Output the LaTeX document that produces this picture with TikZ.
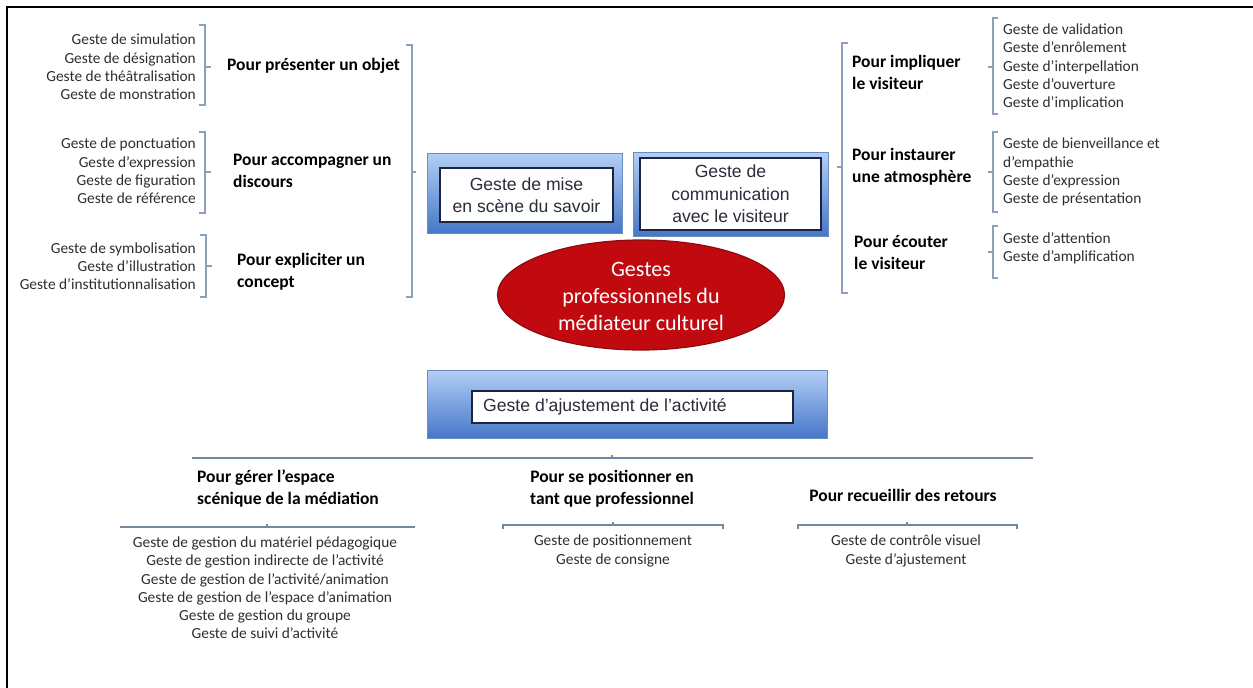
\documentclass[tikz,border=0pt]{standalone}
\usepackage{fontspec}
\setmainfont{Carlito}
\newfontfamily\arialf{Liberation Sans}
\usetikzlibrary{shapes.geometric}
\definecolor{brk}{HTML}{8DA0BA}
\definecolor{bline}{HTML}{7488A0}
\definecolor{boxtop}{HTML}{B3CFF4}
\definecolor{boxbot}{HTML}{4677C8}
\definecolor{boxedge}{HTML}{6A8CC0}
\definecolor{navy}{HTML}{1C2444}
\definecolor{smalltxt}{HTML}{2E2E2E}
\definecolor{boxtxt}{HTML}{2A2D3A}
\definecolor{ellred}{HTML}{C00A10}
\definecolor{ellrim}{HTML}{8E0A0E}
\tikzset{
  small/.style={inner sep=0pt, text=smalltxt, font=\fontsize{15.4}{18.2}\selectfont},
  head/.style={inner sep=0pt, text=black, font=\fontsize{17.5}{22}\selectfont\bfseries, align=left, anchor=west},
  bracket/.style={draw=brk, line width=1.3pt},
  hline/.style={draw=bline, line width=1.5pt},
  bluebox/.style={draw=boxedge, line width=0.8pt, top color=boxtop, bottom color=boxbot},
  innerbox/.style={draw=navy, line width=1.6pt, fill=white},
  boxtext/.style={inner sep=0pt, text=boxtxt, font=\arialf\fontsize{17.6}{22.5}\selectfont, align=center}
}
\begin{document}
\begin{tikzpicture}[x=1pt,y=-1pt]
\useasboundingbox (0,0) rectangle (1253,688);
% frame
\draw[line width=2.5pt] (7,688) -- (7,7) -- (1253,7);

% ---------- left lists ----------
\node[small, anchor=east, align=right] (l1) at (196,67) {Geste de simulation\\Geste de désignation\\Geste de théâtralisation\\Geste de monstration};
\node[small, anchor=east, align=right] (l2) at (196,171) {Geste de ponctuation\\Geste d’expression\\Geste de figuration\\Geste de référence};
\node[small, anchor=east, align=right] (l3) at (196,266) {Geste de symbolisation\\Geste d’illustration\\Geste d’institutionnalisation};
% small brackets
\draw[bracket] (199,25) -- (205,25) -- (205,105) -- (199,105);
\draw[bracket] (205,67) -- (211,67);
\draw[bracket] (199,132) -- (205,132) -- (205,213) -- (199,213);
\draw[bracket] (205,172) -- (211,172);
\draw[bracket] (200,235) -- (206,235) -- (206,297) -- (200,297);
\draw[bracket] (206,266) -- (212,266);
% headings
\node[head] (h1) at (227,66) {Pour présenter un objet};
\node[head] (h2) at (233,171) {Pour accompagner un\\discours};
\node[head] (h3) at (237,272) {Pour expliciter un\\concept};
% big left bracket
\draw[bracket] (406,45) -- (412,45) -- (412,297) -- (406,297);
\draw[bracket] (412,172) -- (416,172);

% ---------- central boxes ----------
\path[bluebox] (427,153) rectangle (622,233);
\node[innerbox, minimum width=173pt, minimum height=54pt, inner sep=0pt] (b1) at (526.5,195) {};
\node[boxtext] (b1t) at (b1.center) {Geste de mise\\en scène du savoir};

\path[bluebox] (633,152) rectangle (828,236);
\node[innerbox, minimum width=181pt, minimum height=72pt, inner sep=0pt] (b2) at (730.5,194) {};
\node[boxtext] (b2t) at (b2.center) {Geste de\\communication\\avec le visiteur};

\node[ellipse, draw=ellrim, line width=1.2pt, fill=ellred, minimum width=287pt, minimum height=110pt, inner sep=0pt] (ell) at (641,295) {};
\node[inner sep=0pt, text=white, align=center, font=\fontsize{22}{27}\selectfont] (ellt) at (641,296) {Gestes\\professionnels du\\médiateur culturel};

\path[bluebox] (427,370) rectangle (827,438);
\node[innerbox, minimum width=321pt, minimum height=32pt, inner sep=0pt] (b3) at (632.5,407) {};
\node[boxtext, anchor=west] (b3t) at (483,407) {Geste d’ajustement de l’activité};

% ---------- right side ----------
\draw[bracket] (848,43) -- (842,43) -- (842,293) -- (848,293);
\draw[bracket] (842,167) -- (837,167);
\node[head] (r1) at (852,72) {Pour impliquer\\le visiteur};
\node[head] (r2) at (852,167) {Pour instaurer\\une atmosphère};
\node[head] (r3) at (854,253) {Pour écouter\\le visiteur};
\draw[bracket] (998,18) -- (993,18) -- (993,114) -- (998,114);
\draw[bracket] (993,67) -- (988,67);
\draw[bracket] (998,132) -- (993,132) -- (993,212) -- (998,212);
\draw[bracket] (993,172) -- (988,172);
\draw[bracket] (998,226) -- (993,226) -- (993,278) -- (998,278);
\draw[bracket] (993,252) -- (988,252);
\node[small, anchor=west, align=left] (rl1) at (1003,67) {Geste de validation\\Geste d’enrôlement\\Geste d’interpellation\\Geste d’ouverture\\Geste d’implication};
\node[small, anchor=west, align=left] (rl2) at (1003,172) {Geste de bienveillance et\\d’empathie\\Geste d’expression\\Geste de présentation};
\node[small, anchor=west, align=left] (rl3) at (1003,248) {Geste d’attention\\Geste d’amplification};

% ---------- bottom ----------
\draw[hline] (192,458) -- (1033,458);
\draw[hline] (612,458) -- (612,455);
\node[head] (bh1) at (197,489) {Pour gérer l’espace\\scénique de la médiation};
\node[head, anchor=center, align=center] (bh2) at (612,489) {Pour se positionner en\\tant que professionnel};
\node[head, anchor=center] (bh3) at (903,495) {Pour recueillir des retours};
\draw[hline] (120,527) -- (415,527);
\draw[hline] (267,527) -- (267,524);
\draw[hline] (503,529) -- (503,525) -- (723,525) -- (723,529);
\draw[hline] (613,525) -- (613,522);
\draw[hline] (798,529) -- (798,525) -- (1017,525) -- (1017,529);
\draw[hline] (907,525) -- (907,522);
\node[small, align=center] (bl1) at (265,588) {Geste de gestion du matériel pédagogique\\Geste de gestion indirecte de l’activité\\Geste de gestion de l’activité/animation\\Geste de gestion de l’espace d’animation\\Geste de gestion du groupe\\Geste de suivi d’activité};
\node[small, align=center] (bl2) at (613,551) {Geste de positionnement\\Geste de consigne};
\node[small, align=center] (bl3) at (906,551) {Geste de contrôle visuel\\Geste d’ajustement};
\end{tikzpicture}
\end{document}
